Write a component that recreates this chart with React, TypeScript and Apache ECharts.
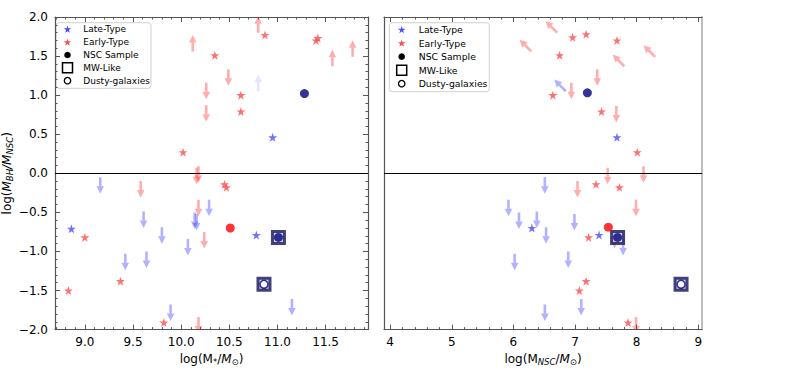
import React, { useEffect, useRef } from 'react';
import * as echarts from 'echarts';

// ---------------- Data ----------------
// Left panel: x = log(M*/Msun), y = log(M_BH/M_NSC)
const leftLateStars = [[10.95, 0.46], [8.86, -0.71], [10.78, -0.79]];
const leftEarlyStars = [
  [10.87, 1.77], [11.40, 1.70], [11.42, 1.73], [10.35, 1.51], [10.62, 1.00], [10.62, 0.79],
  [10.02, 0.27], [10.45, -0.14], [10.47, -0.18], [9.00, -0.82], [8.83, -1.50], [9.37, -1.38], [9.82, -1.91],
];
const leftNscNavy = [[11.28, 1.02], [11.01, -0.82]];
const leftNscRed = [[10.51, -0.70]];
const leftMwLike = [[11.01, -0.82], [10.86, -1.42]];
const leftDusty = [[10.86, -1.42]];
const leftEarlyLowerLimits = [[10.12, 1.56], [10.80, 1.80], [11.57, 1.37], [11.78, 1.49]];
const leftLateLowerLimits = [[10.80, 1.05]];
const leftEarlyUpperLimits = [
  [10.49, 1.33], [10.26, 1.16], [10.26, 0.87], [10.16, 0.07], [10.18, 0.09], [9.58, -0.10],
  [10.18, -0.34], [10.24, -0.75], [10.18, -1.84],
];
const leftLateUpperLimits = [
  [9.16, -0.05], [10.29, -0.34], [9.61, -0.49], [10.14, -0.50], [10.16, -0.52], [9.80, -0.69],
  [10.07, -0.84], [9.42, -1.03], [9.64, -1.00], [11.15, -1.61], [9.89, -1.68],
];

// Right panel: x = log(M_NSC/Msun), y = log(M_BH/M_NSC)
const rightLateStars = [[7.68, 0.46], [6.30, -0.70], [7.39, -0.79]];
const rightEarlyStars = [
  [6.96, 1.74], [7.18, 1.78], [7.68, 1.70], [6.75, 1.51], [6.64, 1.00], [7.43, 0.79],
  [8.01, 0.27], [7.34, -0.14], [7.72, -0.18], [7.22, -0.82], [7.07, -1.50], [7.18, -1.38], [7.86, -1.91],
];
const rightNscNavy = [[7.20, 1.03], [7.69, -0.82]];
const rightNscRed = [[7.54, -0.69]];
const rightMwLike = [[7.69, -0.82], [8.72, -1.42]];
const rightDusty = [[8.72, -1.42]];
const rightEarlyMixedLimits = [[6.71, 1.80], [6.29, 1.56], [7.80, 1.37], [8.30, 1.49]];
const rightLateMixedLimits = [[6.85, 1.05]];
const rightEarlyUpperLimits = [
  [7.36, 1.33], [6.94, 1.16], [7.67, 0.86], [7.53, 0.07], [8.11, 0.09], [7.04, -0.10],
  [7.99, -0.34], [7.64, -0.75], [7.99, -1.84],
];
const rightLateUpperLimits = [
  [6.51, -0.05], [5.92, -0.34], [6.09, -0.50], [6.38, -0.49], [6.99, -0.52], [6.53, -0.69],
  [7.78, -0.84], [6.02, -1.03], [6.89, -1.00], [6.51, -1.68], [7.10, -1.61],
];

// Axis ticks
const leftXTicks = [9.0, 9.5, 10.0, 10.5, 11.0, 11.5];
const rightXTicks = [4, 5, 6, 7, 8, 9];
const leftXRange = [8.69, 11.94];
const rightXRange = [3.9, 9.06];
const yRange = [-2, 2];
const yStep = 0.5;

const legendNames = ['Late-Type', 'Early-Type', 'NSC Sample', 'MW-Like', 'Dusty-galaxies'];

// ---------------- Styles ----------------
const FONT = 'DejaVu Sans';
const SPINE = '#555555';
const RED_STAR = '#ff4d4d';
const BLUE_STAR = '#4d4dff';
const RED_ARROW = 'rgba(255,0,0,0.32)';
const BLUE_ARROW = 'rgba(0,0,255,0.3)';
const NAVY = '#000080';
const STAR =
  'path://M10 0L12.245 6.91L19.51 6.91L13.63 11.18L15.88 18.09L10 13.82L4.12 18.09L6.37 11.18L0.49 6.91L7.755 6.91Z';

const minorTicks = (from: number, to: number, step: number, majors: number[]) => {
  const out: number[] = [];
  for (let i = Math.ceil(from / step - 1e-9); i * step <= to + 1e-9; i++) {
    const v = +(i * step).toFixed(3);
    if (!majors.some((m) => Math.abs(m - v) < 1e-6)) out.push(v);
  }
  return out;
};

const fmt = (v: number) => (v < 0 ? '\u2212' : '') + Math.abs(v).toFixed(1);

const richName = {
  n: { fontSize: 12, fontFamily: FONT, color: '#000' },
  i: { fontSize: 12, fontFamily: FONT, fontStyle: 'italic', color: '#000' },
  s: { fontSize: 8.5, fontFamily: FONT, color: '#000', padding: [6, 0, 0, 0] },
  si: { fontSize: 8.5, fontFamily: FONT, fontStyle: 'italic', color: '#000', padding: [6, 0, 0, 0] },
};

const xAxisDef = (
  grid: number,
  range: number[],
  position: string,
  values: number[],
  tickLen: number,
  showLine: boolean,
  showLabel: boolean,
  extra: any = {}
) => ({
  type: 'value',
  gridIndex: grid,
  min: range[0],
  max: range[1],
  position,
  axisLine: { show: showLine, onZero: false, lineStyle: { color: SPINE, width: 1.2 } },
  axisTick: { show: true, inside: true, length: tickLen, customValues: values, lineStyle: { color: SPINE, width: 1 } },
  axisLabel: {
    show: showLabel,
    customValues: values,
    formatter: (v: number) => (Number.isInteger(v) && range[0] < 5 ? String(v) : v.toFixed(1)),
    fontSize: 12,
    fontFamily: FONT,
    color: '#000',
    margin: 6,
  },
  splitLine: { show: false },
  ...extra,
});

const arrowSeries = (data: number[][], xi: number, yi: number, dir: number[], color: string, z = 1) => ({
  type: 'custom',
  xAxisIndex: xi,
  yAxisIndex: yi,
  clip: true,
  silent: true,
  z,
  encode: { x: 0, y: 1 },
  data,
  renderItem: (_params: any, api: any) => {
    const p = api.coord([api.value(0), api.value(1)]);
    const L = 16.5;
    const H = 7.5;
    const W = 3.8;
    const dx = dir[0];
    const dy = dir[1];
    const tip = [p[0] + dx * L, p[1] + dy * L];
    const base = [p[0] + dx * (L - H), p[1] + dy * (L - H)];
    const nx = -dy;
    const ny = dx;
    return {
      type: 'group',
      children: [
        {
          type: 'line',
          shape: { x1: p[0], y1: p[1], x2: base[0], y2: base[1] },
          style: { stroke: color, lineWidth: 2.6 },
        },
        {
          type: 'polygon',
          shape: {
            points: [tip, [base[0] + nx * W, base[1] + ny * W], [base[0] - nx * W, base[1] - ny * W]],
          },
          style: { fill: color },
        },
      ],
    };
  },
});

const panelSeries = (
  xi: number,
  yi: number,
  late: number[][],
  early: number[][],
  nscNavy: number[][],
  nscRed: number[][],
  mw: number[][],
  dusty: number[][],
  arrows: any[]
) => [
  ...arrows,
  {
    name: 'Late-Type',
    type: 'scatter',
    xAxisIndex: xi,
    yAxisIndex: yi,
    symbol: STAR,
    symbolSize: 9,
    z: 3,
    itemStyle: { color: BLUE_STAR },
    data: late,
  },
  {
    name: 'Early-Type',
    type: 'scatter',
    xAxisIndex: xi,
    yAxisIndex: yi,
    symbol: STAR,
    symbolSize: 9,
    z: 3,
    itemStyle: { color: RED_STAR },
    data: early,
    markLine: {
      silent: true,
      symbol: ['none', 'none'],
      label: { show: false },
      lineStyle: { color: '#000', width: 1.2, type: 'solid' },
      data: [{ yAxis: 0 }],
    },
  },
  {
    name: 'MW-Like',
    type: 'scatter',
    xAxisIndex: xi,
    yAxisIndex: yi,
    symbol: 'rect',
    symbolSize: 12,
    z: 4,
    itemStyle: { color: '#cfcfe0', borderColor: '#14145a', borderWidth: 3 },
    data: mw,
  },
  {
    name: 'NSC Sample',
    type: 'scatter',
    xAxisIndex: xi,
    yAxisIndex: yi,
    symbol: 'circle',
    symbolSize: 9,
    z: 5,
    itemStyle: { color: NAVY },
    data: nscNavy,
  },
  {
    name: 'NSC Sample',
    type: 'scatter',
    xAxisIndex: xi,
    yAxisIndex: yi,
    symbol: 'circle',
    symbolSize: 9,
    z: 5,
    itemStyle: { color: '#ff0000' },
    data: nscRed,
  },
  {
    name: 'Dusty-galaxies',
    type: 'scatter',
    xAxisIndex: xi,
    yAxisIndex: yi,
    symbol: 'circle',
    symbolSize: 8,
    z: 6,
    itemStyle: { color: '#ffffff', borderColor: NAVY, borderWidth: 1.5 },
    data: dusty,
  },
];

const starPts = (cx: number, cy: number, R: number) => {
  const pts: number[][] = [];
  for (let k = 0; k < 10; k++) {
    const r = k % 2 === 0 ? R : R * 0.382;
    const a = ((-90 + k * 36) * Math.PI) / 180;
    pts.push([cx + r * Math.cos(a), cy + r * Math.sin(a)]);
  }
  return pts;
};

const legendGraphic = (bx: number, by: number, bw: number, bh: number, mx: number, tx: number, y0: number, dy: number, fs: number) => {
  const children: any[] = [
    {
      type: 'rect',
      shape: { x: bx, y: by, width: bw, height: bh, r: 3 },
      style: { fill: 'rgba(255,255,255,0.85)', stroke: '#d0d0d0', lineWidth: 1 },
    },
  ];
  legendNames.forEach((name, i) => {
    const cy = y0 + i * dy;
    let icon: any;
    if (i === 0) icon = { type: 'polygon', shape: { points: starPts(mx, cy + 0.3, 4) }, style: { fill: BLUE_STAR } };
    else if (i === 1) icon = { type: 'polygon', shape: { points: starPts(mx, cy + 0.3, 4) }, style: { fill: RED_STAR } };
    else if (i === 2) icon = { type: 'circle', shape: { cx: mx, cy, r: 3.3 }, style: { fill: '#000' } };
    else if (i === 3)
      icon = { type: 'rect', shape: { x: mx - 5, y: cy - 5, width: 10, height: 10 }, style: { fill: 'none', stroke: '#000', lineWidth: 1.5 } };
    else icon = { type: 'circle', shape: { cx: mx, cy, r: 3.2 }, style: { fill: 'none', stroke: '#000', lineWidth: 1.3 } };
    children.push(icon);
    children.push({
      type: 'text',
      x: tx,
      y: cy,
      style: { text: name, fontSize: fs, fontFamily: FONT, fill: '#000', align: 'left', verticalAlign: 'middle' },
    });
  });
  return { type: 'group', children };
};

export default function App() {
  const ref = useRef<HTMLDivElement>(null);
  useEffect(() => {
    if (!ref.current) return;
    const chart = echarts.init(ref.current, undefined, { renderer: 'svg' });

    const leftMinor = minorTicks(leftXRange[0], leftXRange[1], 0.1, leftXTicks);
    const rightMinor = minorTicks(rightXRange[0], rightXRange[1], 0.2, rightXTicks);

    const yCommon = { type: 'value', min: yRange[0], max: yRange[1], interval: yStep, splitLine: { show: false } };

    const option: any = {
      animation: false,
      backgroundColor: '#ffffff',
      textStyle: { fontFamily: FONT },
      grid: [
        { left: 55, top: 17, width: 313, height: 317 },
        { left: 384, top: 17, width: 318, height: 317 },
      ],
      xAxis: [
        xAxisDef(0, leftXRange, 'bottom', leftXTicks, 5, true, true, {
          name: '{n|log(M}{s|*}{n|/}{i|M}{s|\u2299}{n|)}',
          nameLocation: 'middle',
          nameGap: 15,
          nameTextStyle: { rich: richName },
        }),
        xAxisDef(0, leftXRange, 'bottom', leftMinor, 2.5, false, false),
        xAxisDef(0, leftXRange, 'top', leftXTicks, 5, true, false),
        xAxisDef(0, leftXRange, 'top', leftMinor, 2.5, false, false),
        xAxisDef(1, rightXRange, 'bottom', rightXTicks, 5, true, true, {
          name: '{n|log(M}{si|NSC}{n|/}{i|M}{s|\u2299}{n|)}',
          nameLocation: 'middle',
          nameGap: 15,
          nameTextStyle: { rich: richName },
        }),
        xAxisDef(1, rightXRange, 'bottom', rightMinor, 2.5, false, false),
        xAxisDef(1, rightXRange, 'top', rightXTicks, 5, true, false),
        xAxisDef(1, rightXRange, 'top', rightMinor, 2.5, false, false),
      ],
      yAxis: [
        {
          ...yCommon,
          gridIndex: 0,
          position: 'left',
          axisLine: { show: true, onZero: false, lineStyle: { color: SPINE, width: 1.2 } },
          axisTick: { show: true, inside: true, length: 5, lineStyle: { color: SPINE } },
          minorTick: { show: true, splitNumber: 5, length: 2.5, lineStyle: { color: SPINE } },
          axisLabel: { formatter: fmt, fontSize: 12, fontFamily: FONT, color: '#000', margin: 7 },
          name: '{n|log(}{i|M}{si|BH}{i|/M}{si|NSC}{n|)}',
          nameLocation: 'middle',
          nameGap: 36,
          nameTextStyle: { rich: richName },
        },
        {
          ...yCommon,
          gridIndex: 0,
          position: 'right',
          axisLine: { show: true, onZero: false, lineStyle: { color: SPINE, width: 1.2 } },
          axisTick: { show: true, inside: true, length: 5, lineStyle: { color: SPINE } },
          minorTick: { show: true, splitNumber: 5, length: 2.5, lineStyle: { color: SPINE } },
          axisLabel: { show: false },
        },
        {
          ...yCommon,
          gridIndex: 1,
          position: 'left',
          axisLine: { show: true, onZero: false, lineStyle: { color: SPINE, width: 1.2 } },
          axisTick: { show: false },
          axisLabel: { show: false },
        },
        {
          ...yCommon,
          gridIndex: 1,
          position: 'right',
          axisLine: { show: true, onZero: false, lineStyle: { color: '#bdbdbd', width: 2 } },
          axisTick: { show: false },
          axisLabel: { show: false },
        },
      ],
      series: [
        ...panelSeries(0, 0, leftLateStars, leftEarlyStars, leftNscNavy, leftNscRed, leftMwLike, leftDusty, [
          arrowSeries(leftEarlyLowerLimits, 0, 0, [0, -1], RED_ARROW),
          arrowSeries(leftLateLowerLimits, 0, 0, [0, -1], 'rgba(0,0,255,0.1)'),
          arrowSeries(leftEarlyUpperLimits, 0, 0, [0, 1], RED_ARROW),
          arrowSeries(leftLateUpperLimits, 0, 0, [0, 1], BLUE_ARROW),
        ]),
        ...panelSeries(4, 2, rightLateStars, rightEarlyStars, rightNscNavy, rightNscRed, rightMwLike, rightDusty, [
          arrowSeries(rightEarlyMixedLimits, 4, 2, [-0.7071, -0.7071], RED_ARROW),
          arrowSeries(rightLateMixedLimits, 4, 2, [-0.7071, -0.7071], BLUE_ARROW),
          arrowSeries(rightEarlyUpperLimits, 4, 2, [0, 1], RED_ARROW),
          arrowSeries(rightLateUpperLimits, 4, 2, [0, 1], BLUE_ARROW),
        ]),
      ],
      graphic: [
        legendGraphic(56, 22.7, 95, 65.6, 67.5, 83.3, 29.3, 12.85, 9),
        legendGraphic(389.3, 22.7, 100, 69, 401.7, 418.7, 29.7, 13.5, 9.3),
      ],
    };
    chart.setOption(option);
    return () => chart.dispose();
  }, []);
  return <div ref={ref} style={{ position: 'fixed', left: 0, top: 0, width: 786, height: 371 }} />;
}
